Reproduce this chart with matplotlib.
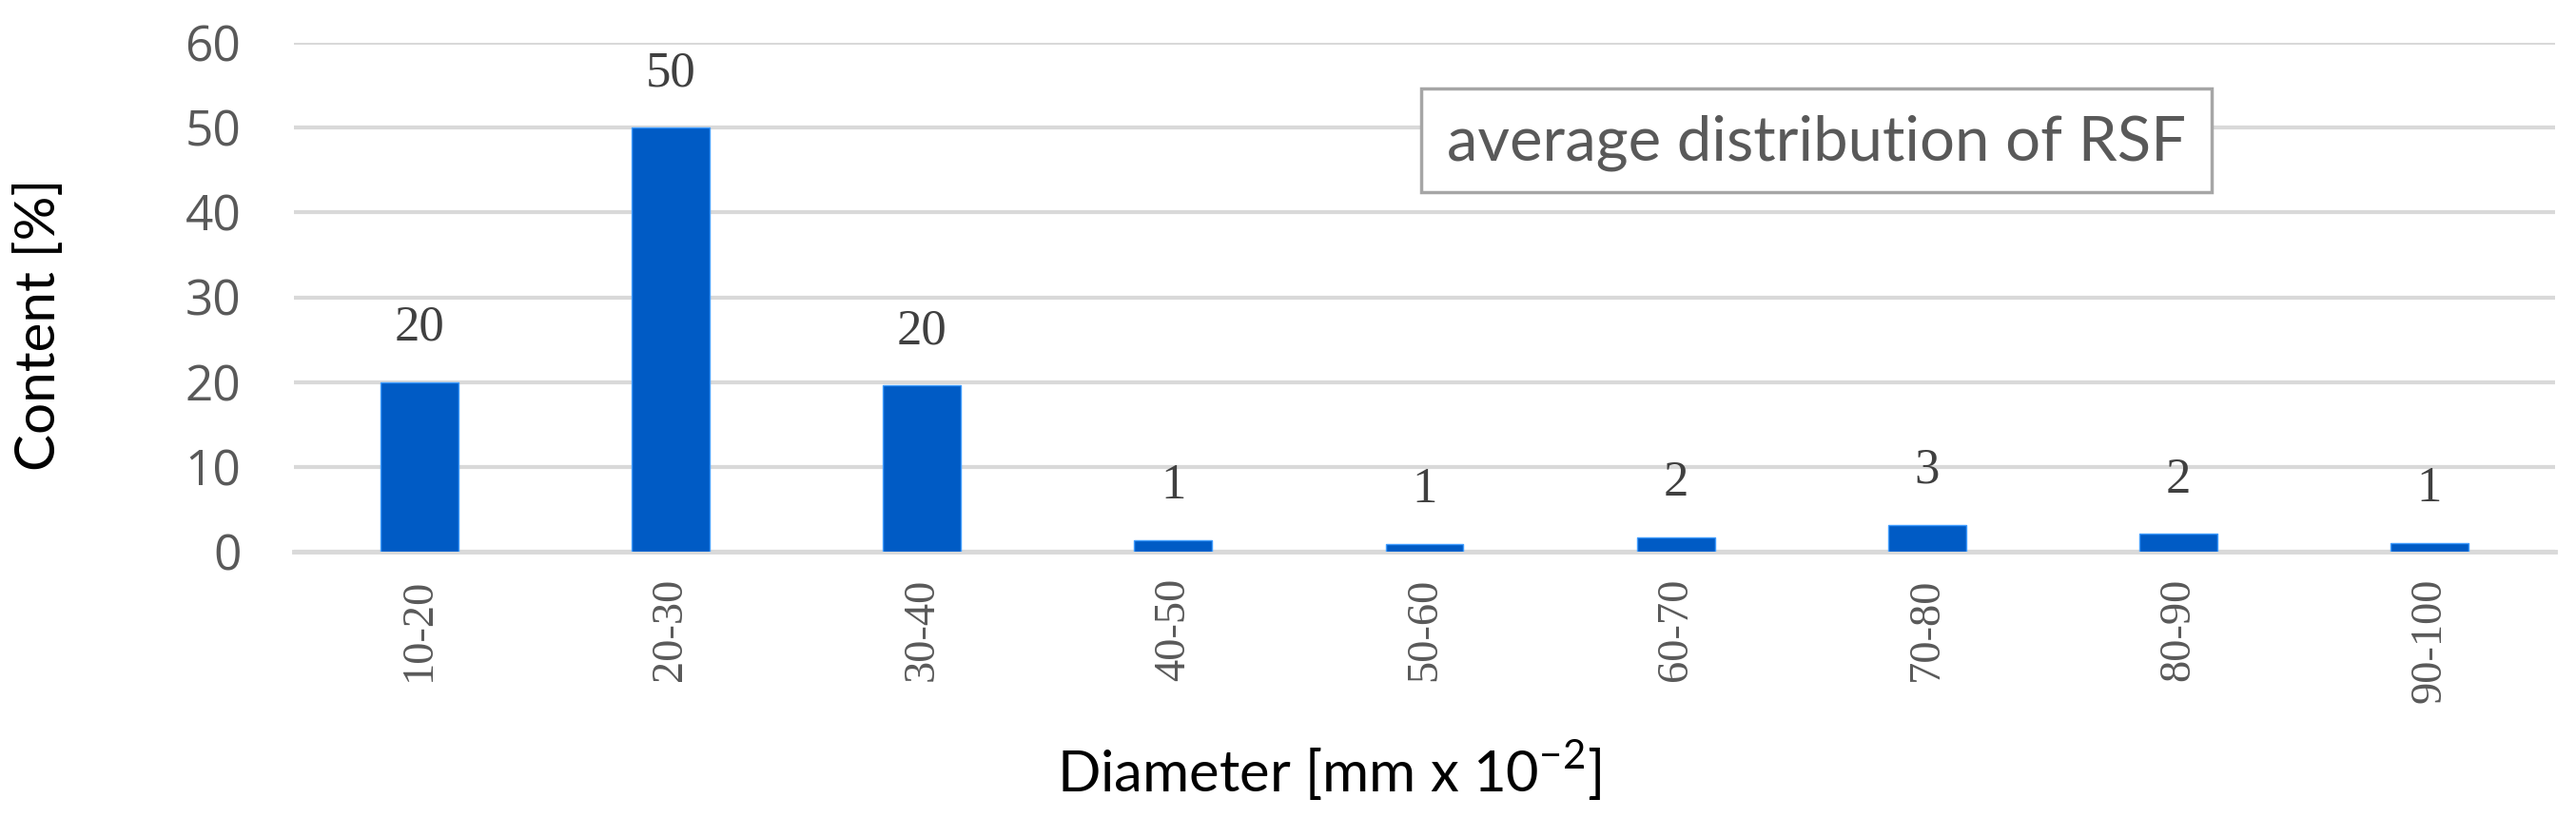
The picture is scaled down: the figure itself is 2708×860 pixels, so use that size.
import matplotlib
matplotlib.use("Agg")
import matplotlib.pyplot as plt
from matplotlib.patches import Rectangle

categories = ["10-20", "20-30", "30-40", "40-50", "50-60", "60-70", "70-80", "80-90", "90-100"]
values = [20.0, 50.0, 19.6, 1.35, 0.93, 1.73, 3.15, 2.08, 1.04]
value_labels = ["20", "50", "20", "1", "1", "2", "3", "2", "1"]
yticks = [0, 10, 20, 30, 40, 50, 60]

plt.rcParams['mathtext.fontset'] = 'custom'
plt.rcParams['mathtext.rm'] = 'Lato'

W, H = 2708, 860
fig = plt.figure(figsize=(W / 100, H / 100), dpi=100)
ax = fig.add_axes([309 / W, 1 - 580 / H, (2686 - 309) / W, (580 - 45) / H])

x = list(range(len(categories)))
bars = ax.bar(x, values, width=0.31, color="#005bc5", edgecolor="#3f9cff",
              linewidth=1.0, zorder=3)

for xi, v, lab in zip(x, values, value_labels):
    ax.annotate(lab, (xi, v), xytext=(0, 41), textcoords="offset points",
                ha="center", va="center", fontsize=38, color="#404040",
                family="Liberation Serif", zorder=4)

ax.set_xlim(-0.5, len(categories) - 0.5)
ax.set_ylim(0, 60)
ax.set_yticks(yticks)
ax.set_yticklabels([str(t) for t in yticks], family="Open Sans", fontsize=37,
                   color="#595959")
ax.set_xticks(x)
ax.set_xticklabels(categories, rotation=90, family="Liberation Serif",
                   fontsize=33.5, color="#595959", va="top", ha="center")
ax.tick_params(axis="y", length=0, pad=40)
ax.tick_params(axis="x", length=0, pad=20)

ax.grid(axis="y", color="#d9d9d9", linewidth=3)
ax.set_axisbelow(True)
for s in ["left", "right", "top"]:
    ax.spines[s].set_visible(False)
ax.spines["bottom"].set_color("#d9d9d9")
ax.spines["bottom"].set_linewidth(3.5)
ax.spines["bottom"].set_zorder(2)

ax.set_ylabel("Content [%]", family="Lato", fontsize=42, color="black",
              ha="center", va="center")
ax.yaxis.set_label_coords(42 / W, 1 - 341 / H, transform=fig.transFigure)
ax.set_xlabel(r"Diameter [mm x 10$^{\mathregular{-2}}$]", family="Lato",
              fontsize=43, color="black", ha="center", va="baseline")
ax.xaxis.set_label_coords(1397 / W, 1 - 832 / H, transform=fig.transFigure)

box = Rectangle((1494 / W, 1 - 202 / H), (2325 - 1494) / W, (202 - 93) / H,
                transform=fig.transFigure, facecolor="white",
                edgecolor="#a6a6a6", linewidth=2.5, zorder=5)
fig.patches.append(box)
fig.text((1494 + 2325) / 2 / W, 1 - 150 / H, "average distribution of RSF",
         family="Lato", fontsize=47, color="#595959", ha="center", va="center",
         zorder=6)

fig.savefig("out.png", dpi=100, facecolor="white")
